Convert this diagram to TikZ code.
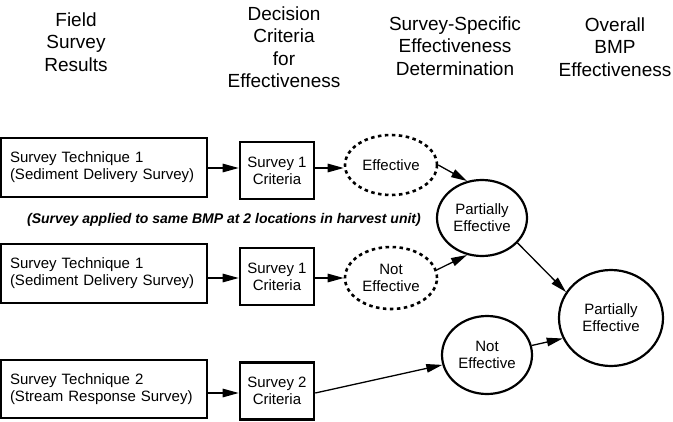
\documentclass[tikz,border=0pt]{standalone}
\usepackage{fontspec}
\setmainfont{Liberation Sans}
\usetikzlibrary{arrows.meta,shapes.geometric}
\begin{document}
\begin{tikzpicture}[x=1pt,y=-1pt,
  hdr/.style={align=center, font=\fontsize{19}{22.5}\selectfont, inner sep=0pt},
  body/.style={font=\fontsize{15}{17}\selectfont},
  techbox/.style={draw, line width=2.6pt, rectangle, minimum height=59pt, text width=188pt, inner xsep=9pt, inner ysep=0pt, align=left, body},
  critbox/.style={draw, line width=2.6pt, rectangle, minimum width=74pt, minimum height=57pt, align=center, inner sep=0pt, body},
  dashell/.style={draw, ellipse, line width=2.6pt, dash pattern=on 3.5pt off 3.5pt, align=center, inner sep=0pt, body},
  solell/.style={draw, ellipse, line width=2.2pt, align=center, inner sep=0pt, body},
  arr/.style={-{Triangle[length=16pt,width=8.5pt]}, line width=1.3pt},
]
\useasboundingbox (0,0) rectangle (673,421);

% headers
\node[hdr] (h1) at (76,42) {Field\\Survey\\Results};
\node[hdr] (h2) at (284,47) {Decision\\Criteria\\for\\Effectiveness};
\node[hdr] (h3) at (455,46) {Survey-Specific\\Effectiveness\\Determination};
\node[hdr] (h4) at (615,47) {Overall\\BMP\\Effectiveness};

% row 1
\node[techbox] (a1) at (104,167.5) {Survey Technique 1\\(Sediment Delivery Survey)};
\node[critbox] (c1) at (277,170.5) {Survey 1\\Criteria};
\node[dashell, minimum width=92pt, minimum height=60pt] (e1) at (391,165) {Effective};
\node[solell, minimum width=90pt, minimum height=76pt] (p1) at (482,218) {Partially\\Effective};
\node[font=\bfseries\itshape\fontsize{14}{17}\selectfont, inner sep=0pt] (note) at (224,220) {(Survey applied to same BMP at 2 locations in harvest unit)};

% row 2
\node[techbox] (a2) at (104,273.5) {Survey Technique 1\\(Sediment Delivery Survey)};
\node[critbox] (c2) at (277,276.5) {Survey 1\\Criteria};
\node[dashell, minimum width=92pt, minimum height=62pt] (e2) at (391,278) {Not\\Effective};

% row 3
\node[techbox, minimum height=58pt] (a3) at (104,389) {Survey Technique 2\\(Stream Response Survey)};
\node[critbox] (c3) at (277,391) {Survey 2\\Criteria};
\node[solell, minimum width=90pt, minimum height=78pt] (n3) at (487,355) {Not\\Effective};

% overall
\node[solell, minimum width=104pt, minimum height=96pt] (f) at (611,318) {Partially\\Effective};

% connectors
\coordinate (r1) at (0,168);
\coordinate (r2) at (0,278);
\coordinate (r3) at (0,393);
\draw[arr] (a1.east |- r1) -- (c1.west |- r1);
\draw[arr] (c1.east |- r1) -- (e1.west |- r1);
\draw[arr] (a2.east |- r2) -- (c2.west |- r2);
\draw[arr] (c2.east |- r2) -- (e2.west |- r2);
\draw[arr] (a3.east |- r3) -- (c3.west |- r3);
\draw[arr] (c3.east |- r3) -- (n3);
\draw[arr] (e1.east) -- (p1.112);
\draw[arr] (e2.10) -- (p1.248);
\draw[arr] (p1.-35) -- (f.150);
\draw[arr] (n3.12) -- (f.203);
\end{tikzpicture}
\end{document}
